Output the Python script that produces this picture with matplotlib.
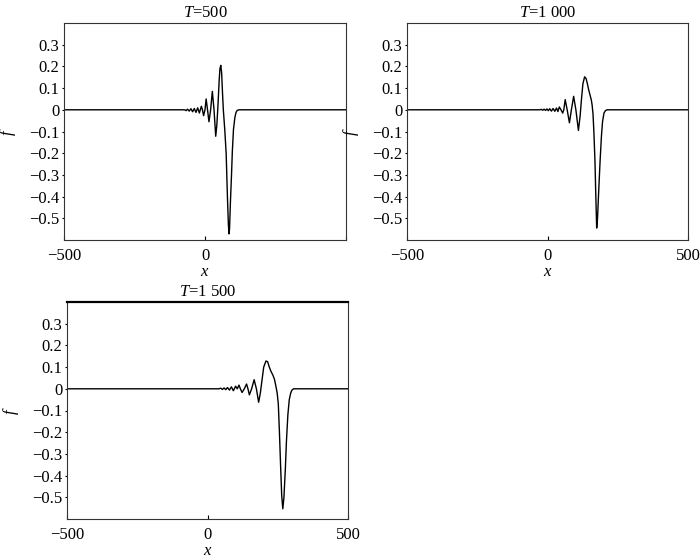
import matplotlib as mpl
mpl.use('Agg')
import matplotlib.pyplot as plt

# values (x, f) for each time
titles = ['$T$=500', '$T$=1 000', '$T$=1 500']

x1 = [-500, -72, -67, -62, -56, -50, -44, -38, -32, -26, -20, -13, -9, -5, 0, 4, 9, 14, 20, 26,
      32, 38, 42, 46, 50, 53, 56, 59, 62, 65, 70, 75, 80, 83, 85, 87, 90, 94, 97, 101, 106, 110,
      114, 120, 500]
f1 = [0, 0, -0.004, 0.003, -0.006, 0.005, -0.009, 0.006, -0.012, 0.009, -0.015, 0.016, 0, -0.027,
      0, 0.05, 0, -0.055, 0, 0.085, 0, -0.122, -0.07, 0.02, 0.13, 0.19, 0.205, 0.17, 0.08, 0,
      -0.09, -0.2, -0.42, -0.53, -0.572, -0.55, -0.43, -0.3, -0.19, -0.09, -0.035, -0.012, -0.003,
      0, 0]

x2 = [-500, -27, -22, -17, -12, -7, -2, 3, 8, 14, 20, 26, 32, 37, 42, 48, 54, 58, 63, 70, 78, 85,
      93, 101, 110, 116, 121, 126, 132, 137, 142, 146, 151, 156, 159, 162, 165, 169, 172, 175, 178,
      182, 187, 192, 196, 201, 206, 212, 500]
f2 = [0, 0, 0.002, -0.002, 0.003, -0.003, 0.004, -0.004, 0.005, -0.006, 0.006, -0.007, 0.008,
      -0.008, 0.013, 0, -0.015, 0, 0.047, 0, -0.06, 0, 0.062, 0, -0.095, -0.03, 0.05, 0.12, 0.152,
      0.145, 0.12, 0.095, 0.07, 0.045, 0.02, -0.02, -0.1, -0.24, -0.4, -0.545, -0.5, -0.38, -0.24,
      -0.12, -0.053, -0.015, -0.004, 0, 0]

x3 = [-500, 41, 47, 53, 59, 65, 71, 78, 85, 92, 100, 106, 112, 117, 123, 131, 139, 144, 149, 157,
      166, 174, 182, 188, 194, 200, 208, 214, 220, 226, 232, 238, 243, 248, 252, 256, 260, 264, 268,
      272, 277, 281, 286, 291, 296, 300, 306, 500]
f3 = [0, 0, 0.003, -0.003, 0.004, -0.004, 0.006, -0.006, 0.009, -0.009, 0.012, 0, 0.017, 0, -0.017,
      0, 0.022, 0, -0.028, 0, 0.042, 0, -0.062, -0.02, 0.04, 0.1, 0.128, 0.125, 0.1, 0.08, 0.065,
      0.045, 0.015, -0.02, -0.07, -0.2, -0.35, -0.49, -0.553, -0.5, -0.37, -0.24, -0.12, -0.05,
      -0.02, -0.007, 0, 0]

xticks = [-500, 0, 500]
# the first panel shows no label at 500 in the reference
xtick_labels = [['\u2212500', '0', ''], ['\u2212500', '0', '500'], ['\u2212500', '0', '500']]
yticks = [0.3, 0.2, 0.1, 0, -0.1, -0.2, -0.3, -0.4, -0.5]
ytick_labels = ['0.3', '0.2', '0.1', '0', '\u22120.1', '\u22120.2', '\u22120.3', '\u22120.4', '\u22120.5']

plt.rcParams['font.family'] = ['Liberation Serif', 'DejaVu Serif']
plt.rcParams['font.size'] = 12
plt.rcParams['mathtext.fontset'] = 'custom'
plt.rcParams['mathtext.rm'] = 'Liberation Serif'
plt.rcParams['mathtext.it'] = 'Liberation Serif:italic'

W, H = 700, 560
fig = plt.figure(figsize=(W / 100, H / 100), dpi=100)

# axes boxes in pixels: left, top, right, bottom
boxes = [(64, 23, 346, 240), (407, 23, 688, 240), (67, 302, 348, 519)]
series = [(x1, f1), (x2, f2), (x3, f3)]

for i, (box, (xs, fs)) in enumerate(zip(boxes, series)):
    l, t, r, b = box
    ax = fig.add_axes([l / W, 1 - b / H, (r - l) / W, (b - t) / H])
    ax.plot(xs, fs, color='black', lw=1.0)
    ax.set_xlim(-500, 500)
    ax.set_ylim(-0.6, 0.4)
    ax.set_xticks(xticks)
    ax.set_xticklabels(xtick_labels[i])
    ax.set_yticks(yticks)
    ax.set_yticklabels(ytick_labels)
    ax.tick_params(axis='x', direction='in', length=3, width=0.8, pad=5.5)
    ax.tick_params(axis='y', direction='out', length=1.5, width=0.8, pad=2)
    for s in ax.spines.values():
        s.set_color('#333333')
        s.set_linewidth(0.8)
    if i == 2:
        ax.spines['top'].set_color('black')
        ax.spines['top'].set_linewidth(1.6)
    ax.set_title(titles[i], fontsize=12, pad=4)
    ax.set_xlabel('$x$', labelpad=0)
    ax.set_ylabel('$f$', labelpad=7.5)

fig.savefig('out.png', dpi=100)
